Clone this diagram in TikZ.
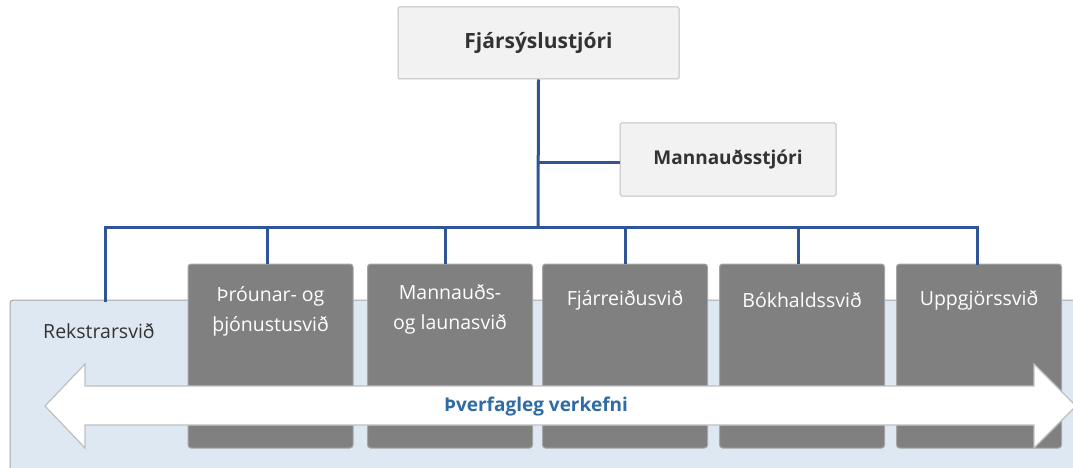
\documentclass[tikz,border=0pt]{standalone}
\usepackage{fontspec}
\setmainfont{Open Sans}
\definecolor{conn}{HTML}{2F5597}
\definecolor{topfill}{HTML}{F2F2F2}
\definecolor{topdraw}{HTML}{BFBFBF}
\definecolor{gfill}{HTML}{808080}
\definecolor{gdraw}{HTML}{A6A6A6}
\definecolor{bandfill}{HTML}{DEE8F2}
\definecolor{banddraw}{HTML}{A6A6A6}
\definecolor{arrdraw}{HTML}{BFBFBF}
\definecolor{lblue}{HTML}{2F6CA5}
\definecolor{dtext}{HTML}{333333}
\begin{document}
\begin{tikzpicture}[x=1pt,y=-1pt,
  topbox/.style={draw=topdraw, fill=topfill, line width=1pt, rounded corners=1.5pt, inner sep=0pt, text=dtext},
  gbox/.style={draw=gdraw, fill=gfill, line width=1pt, rounded corners=3pt, minimum width=165pt, minimum height=184pt, inner sep=0pt},
  gtext/.style={text=white, align=center, font=\fontsize{19.5}{30}\selectfont, inner sep=0pt},
  conline/.style={draw=conn, line width=3pt},
]
\useasboundingbox (0,0) rectangle (1073,468);
\clip (0,0) rectangle (1073,468);
% band
\path[draw=banddraw, fill=bandfill, line width=1pt, rounded corners=3pt] (10,300) rectangle (1100,490);
\node[anchor=west, text=dtext, font=\fontsize{19.5}{23}\selectfont, inner sep=0pt] (rek) at (43,331) {Rekstrarsvið};
% top boxes
\node[topbox, font=\fontsize{21}{25}\selectfont\bfseries, minimum width=281pt, minimum height=72pt] (fjs) at (538.5,43) {Fjársýslustjóri};
\node[topbox, font=\fontsize{19}{22}\selectfont\bfseries, minimum width=216pt, minimum height=73pt] (mst) at (728,159.5) {Mannauðsstjóri};
% grey boxes
\node[gbox] (b1) at (270.5,356) {};
\node[gbox] (b2) at (450,356) {};
\node[gbox] (b3) at (625,356) {};
\node[gbox] (b4) at (802,356) {};
\node[gbox] (b5) at (979,356) {};
\node[gtext] (t1) at (270.5,311) {Þróunar- og\\þjónustusvið};
\node[gtext] (t2) at (450,309) {Mannauðs-\\og launasvið};
\node[gtext] (t3) at (625,300) {Fjárreiðusvið};
\node[gtext] (t4) at (802,300) {Bókhaldssvið};
\node[gtext] (t5) at (979,300) {Uppgjörssvið};
% double arrow
\path[draw=arrdraw, fill=white, line width=1.2pt, line join=miter]
  (45,406) -- (85,364) -- (85,386) -- (1034,386) -- (1034,364) -- (1076,406)
  -- (1034,448) -- (1034,425) -- (85,425) -- (85,448) -- cycle;
\node[text=lblue, font=\fontsize{19}{22}\selectfont\bfseries, inner sep=0pt] (pv) at (536,407) {Þverfagleg verkefni};
% connectors
\coordinate (bus) at (538,227);
\coordinate (mj) at (538,162);
\coordinate (lb) at (105,227);
\coordinate (rb) at (977,227);
\coordinate (lbend) at (105,300);
\draw[conline] (fjs.south) -- (bus);
\draw[conline] (mj) -- (mj -| mst.west);
\draw[conline, line cap=rect] (lbend) -- (lb) -- (rb) -- (rb |- b5.north);
\draw[conline] (b1.north -| 267,0) -- (267,227);
\draw[conline] (b2.north -| 445,0) -- (445,227);
\draw[conline] (b3.north -| 625,0) -- (625,227);
\draw[conline] (b4.north -| 798,0) -- (798,227);
\end{tikzpicture}
\end{document}
